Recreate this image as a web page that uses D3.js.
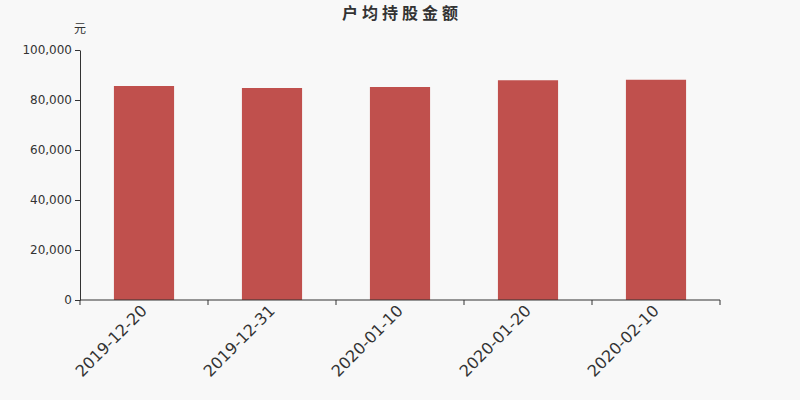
<html>
<head>
<script src="https://cdnjs.cloudflare.com/ajax/libs/d3/7.8.5/d3.min.js"></script>
<style>
  body { margin: 0; background: #f8f8f8; }
  svg text { font-family: "DejaVu Sans", "Noto Sans CJK SC", sans-serif; }
  .axis path, .axis line { stroke: #333; }
  .axis text { fill: #333; font-size: 12px; font-family: "DejaVu Sans", sans-serif; }
  .axis text.xlabel { font-size: 16px; }
</style>
</head>
<body>
<script type="text/javascript">
  var dates = ["2019-12-20", "2019-12-31", "2020-01-10", "2020-01-20", "2020-02-10"];
  var amounts = [85600, 84800, 85200, 87900, 88100];
  var yTicks = [0, 20000, 40000, 60000, 80000, 100000];

  var width = 800, height = 400;
  var mLeft = 80, mRight = 720, mTop = 50, mBottom = 300;

  var svg = d3.select("body").append("svg")
      .attr("width", width)
      .attr("height", height);

  svg.append("rect").attr("width", width).attr("height", height).attr("fill", "#f8f8f8");

  var x = d3.scaleBand().domain(dates).range([mLeft, mRight]).paddingInner(0.53).paddingOuter(0.265);
  var xb = d3.scaleBand().domain(dates).range([mLeft, mRight]);
  var y = d3.scaleLinear().domain([0, 100000]).range([mBottom, mTop]);

  svg.append("text")
      .attr("x", 402).attr("y", 19)
      .attr("text-anchor", "middle")
      .attr("font-size", 16).attr("font-weight", "bold")
      .attr("letter-spacing", 4)
      .attr("fill", "#333")
      .text("户均持股金额");

  svg.append("text")
      .attr("x", 80).attr("y", 33)
      .attr("text-anchor", "middle")
      .attr("font-size", 12)
      .attr("fill", "#333")
      .text("元");

  svg.append("g").selectAll("rect")
      .data(amounts)
      .join("rect")
      .attr("x", (d, i) => x(dates[i]))
      .attr("width", x.bandwidth())
      .attr("y", d => y(d))
      .attr("height", d => mBottom - y(d))
      .attr("fill", "#c0504d");

  svg.append("g")
      .attr("class", "axis")
      .attr("transform", "translate(" + mLeft + ",0)")
      .call(d3.axisLeft(y).tickValues(yTicks).tickSize(5).tickSizeOuter(0).tickPadding(3).tickFormat(d3.format(",")));

  // x axis: ticks at category boundaries
  var bounds = dates.map(d => xb(d)).concat([mRight]);
  var xg = svg.append("g").attr("class", "axis");
  xg.append("line")
      .attr("x1", mLeft).attr("x2", mRight)
      .attr("y1", mBottom).attr("y2", mBottom);
  xg.selectAll("line.tick")
      .data(bounds)
      .join("line")
      .attr("class", "tick")
      .attr("x1", d => d).attr("x2", d => d)
      .attr("y1", mBottom).attr("y2", mBottom + 5);
  xg.selectAll("text")
      .data(dates)
      .join("text")
      .attr("class", "xlabel")
      .attr("transform", d => "translate(" + (xb(d) + xb.bandwidth() / 2 - 4) + "," + (mBottom + 4) + ") rotate(-45)")
      .attr("text-anchor", "end")
      .attr("dy", "0.7em")
      .text(d => d);
</script>
</body>
</html>
